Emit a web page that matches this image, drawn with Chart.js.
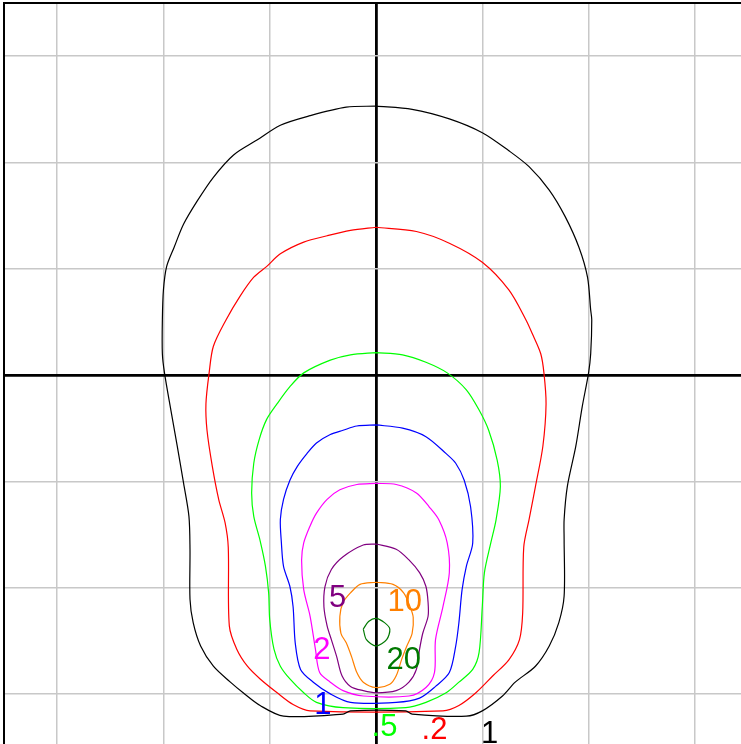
<!DOCTYPE html>
<html>
<head>
<meta charset="utf-8">
<script src="https://cdn.jsdelivr.net/npm/chart.js@4"></script>
<style>
  html, body { margin: 0; padding: 0; background: #fff; overflow: hidden; }
  #wrap { position: absolute; left: 0; top: 0; width: 760px; height: 760px; }
</style>
</head>
<body>
<div id="wrap"><canvas id="plot" width="760" height="760"></canvas></div>
<script>
// contour levels and colours
const levels = ['.1', '.2', '.5', '1', '2', '5', '10', '20'];
const levelColors = ['#000000', '#ff0000', '#00ff00', '#0000ff', '#ff00ff', '#800080', '#ff8000', '#007800'];

// grid lines (grid units)
const gridTicks = [-3, -2, -1, 0, 1, 2, 3];

// contour paths, [x, y] in grid units
const c01 = [[0,2.53],[-0.28,2.52],[-0.62,2.44],[-0.90,2.35],[-1.12,2.21],[-1.34,2.07],[-1.53,1.86],[-1.68,1.64],[-1.81,1.42],[-1.90,1.20],[-1.97,1.02],[-2.00,0.80],[-2.01,0.52],[-2.01,0.20],[-1.99,0.02],[-1.93,-0.33],[-1.87,-0.67],[-1.81,-1.02],[-1.76,-1.33],[-1.75,-1.64],[-1.75,-2.11],[-1.72,-2.33],[-1.65,-2.55],[-1.53,-2.74],[-1.37,-2.89],[-1.25,-2.99],[-1.09,-3.11],[-0.87,-3.21],[-0.31,-3.19],[-0.24,-3.16],[0.28,-3.16],[0.34,-3.19],[0.85,-3.21],[1.00,-3.16],[1.19,-3.02],[1.31,-2.89],[1.50,-2.74],[1.63,-2.55],[1.72,-2.33],[1.77,-2.08],[1.77,-1.55],[1.77,-1.36],[1.80,-1.05],[1.88,-0.67],[1.94,-0.30],[2.00,0.02],[2.02,0.20],[2.03,0.52],[2.02,0.61],[1.99,0.92],[1.91,1.20],[1.78,1.49],[1.63,1.74],[1.44,1.96],[1.25,2.11],[1.00,2.28],[0.69,2.41],[0.34,2.50],[0,2.53]];
const c02 = [[0,1.39],[-0.24,1.36],[-0.46,1.31],[-0.68,1.25],[-0.90,1.14],[-1.03,1.02],[-1.15,0.92],[-1.28,0.74],[-1.41,0.52],[-1.53,0.27],[-1.57,0.02],[-1.60,-0.27],[-1.59,-0.52],[-1.54,-0.86],[-1.48,-1.17],[-1.42,-1.39],[-1.39,-1.62],[-1.38,-2.36],[-1.31,-2.58],[-1.21,-2.74],[-1.09,-2.86],[-0.93,-2.99],[-0.78,-3.10],[-0.62,-3.16],[0.63,-3.16],[0.78,-3.11],[0.94,-2.99],[1.10,-2.83],[1.25,-2.68],[1.35,-2.49],[1.38,-2.24],[1.39,-1.62],[1.44,-1.36],[1.50,-1.05],[1.57,-0.67],[1.60,-0.27],[1.58,0.02],[1.55,0.20],[1.47,0.39],[1.41,0.52],[1.25,0.80],[1.00,1.06],[0.69,1.24],[0.38,1.35],[0,1.39]];
const c05 = [[0,0.21],[-0.24,0.19],[-0.43,0.14],[-0.68,0.02],[-0.81,-0.11],[-0.93,-0.27],[-1.03,-0.42],[-1.10,-0.61],[-1.15,-0.83],[-1.17,-1.11],[-1.15,-1.33],[-1.09,-1.56],[-1.04,-1.80],[-1.01,-2.05],[-1.00,-2.30],[-0.96,-2.58],[-0.90,-2.74],[-0.81,-2.86],[-0.68,-2.99],[-0.56,-3.08],[-0.31,-3.13],[0.28,-3.13],[0.47,-3.08],[0.66,-2.99],[0.78,-2.89],[0.91,-2.77],[0.97,-2.61],[1.00,-2.18],[1.02,-1.86],[1.08,-1.58],[1.13,-1.36],[1.17,-1.05],[1.14,-0.80],[1.06,-0.52],[0.97,-0.33],[0.85,-0.14],[0.67,0.02],[0.47,0.12],[0.25,0.19],[0,0.21]];
const c1 = [[0,-0.47],[-0.18,-0.48],[-0.31,-0.52],[-0.43,-0.56],[-0.56,-0.64],[-0.65,-0.74],[-0.74,-0.86],[-0.81,-0.99],[-0.87,-1.17],[-0.90,-1.36],[-0.89,-1.58],[-0.87,-1.80],[-0.81,-1.99],[-0.78,-2.18],[-0.76,-2.52],[-0.71,-2.77],[-0.59,-2.89],[-0.43,-3.00],[-0.24,-3.08],[0.19,-3.08],[0.41,-3.04],[0.56,-2.93],[0.69,-2.80],[0.75,-2.55],[0.78,-2.33],[0.81,-2.02],[0.85,-1.80],[0.91,-1.58],[0.89,-1.24],[0.83,-0.99],[0.75,-0.83],[0.66,-0.74],[0.47,-0.58],[0.25,-0.50],[0,-0.47]];
const c2 = [[0,-1.02],[-0.18,-1.03],[-0.34,-1.08],[-0.46,-1.17],[-0.56,-1.30],[-0.62,-1.42],[-0.68,-1.58],[-0.70,-1.74],[-0.68,-2.02],[-0.62,-2.27],[-0.57,-2.58],[-0.53,-2.80],[-0.43,-2.89],[-0.31,-2.97],[-0.12,-3.02],[0.31,-3.02],[0.47,-2.94],[0.55,-2.80],[0.56,-2.49],[0.63,-2.18],[0.69,-1.86],[0.67,-1.58],[0.59,-1.36],[0.50,-1.24],[0.38,-1.11],[0.19,-1.03],[0,-1.02]];
const c5 = [[0,-1.59],[-0.12,-1.60],[-0.31,-1.71],[-0.42,-1.83],[-0.48,-1.99],[-0.49,-2.18],[-0.46,-2.36],[-0.42,-2.49],[-0.37,-2.65],[-0.32,-2.83],[-0.24,-2.93],[-0.12,-2.97],[0,-2.99],[0.19,-2.97],[0.31,-2.89],[0.38,-2.77],[0.41,-2.58],[0.44,-2.43],[0.49,-2.27],[0.49,-2.14],[0.47,-1.99],[0.41,-1.86],[0.31,-1.74],[0.19,-1.64],[0,-1.59]];
const c10 = [[0,-1.95],[-0.15,-1.97],[-0.24,-2.05],[-0.31,-2.14],[-0.34,-2.27],[-0.33,-2.43],[-0.28,-2.52],[-0.23,-2.65],[-0.18,-2.80],[-0.12,-2.89],[0,-2.94],[0.13,-2.91],[0.19,-2.83],[0.24,-2.68],[0.29,-2.55],[0.34,-2.43],[0.35,-2.28],[0.32,-2.18],[0.26,-2.05],[0.16,-1.97],[0,-1.95]];
const c20 = [[-0.12,-2.39],[-0.07,-2.32],[0,-2.29],[0.08,-2.33],[0.13,-2.39],[0.10,-2.49],[0,-2.55],[-0.09,-2.49],[-0.12,-2.39]];

// label text positions
const labelX = [1.07, 0.55, 0.08, -0.50, -0.51, -0.36, 0.27, 0.26];
const labelY = [-3.38, -3.34, -3.32, -3.11, -2.59, -2.10, -2.14, -2.69];

const paths = [c01, c02, c05, c1, c2, c5, c10, c20];

const labelPlugin = {
    id: 'contourLabels',
    afterDatasetsDraw(chart) {
        const { ctx, scales } = chart;
        ctx.save();
        ctx.font = "31px 'Liberation Sans', Arial, sans-serif";
        ctx.textAlign = 'center';
        ctx.textBaseline = 'middle';
        levels.forEach((lv, i) => {
            ctx.fillStyle = levelColors[i];
            ctx.fillText(lv === '.1' ? '1' : lv, scales.x.getPixelForValue(labelX[i]), scales.y.getPixelForValue(labelY[i]));
        });
        ctx.restore();
    }
};

const gridColor = c => c.tick && c.tick.value === 0 ? '#000000' : '#c8c8c8';
const gridWidth = c => c.tick && c.tick.value === 0 ? 2.8 : 1.5;
const setTicks = s => { s.ticks = gridTicks.map(v => ({ value: v })); };

new Chart(document.getElementById('plot'), {
    type: 'scatter',
    data: {
        datasets: paths.map((p, i) => ({
            label: levels[i],
            data: p.map(q => ({ x: q[0], y: q[1] })),
            showLine: true,
            borderColor: levelColors[i],
            borderWidth: 1.2,
            pointRadius: 0,
            tension: 0.3,
            fill: false
        }))
    },
    options: {
        responsive: false,
        animation: false,
        events: [],
        layout: { padding: { left: 4, top: 3, right: 12, bottom: 13 } },
        plugins: { legend: { display: false }, tooltip: { enabled: false } },
        scales: {
            x: {
                type: 'linear', position: 'top', min: -3.5, max: 3.5,
                ticks: { display: false },
                grid: { color: gridColor, lineWidth: gridWidth, drawTicks: false },
                border: { display: true, color: '#000000', width: 2 },
                afterBuildTicks: setTicks,
                afterFit: s => { s.height = 0; }
            },
            y: {
                type: 'linear', position: 'left', min: -3.5, max: 3.5,
                ticks: { display: false },
                grid: { color: gridColor, lineWidth: gridWidth, drawTicks: false },
                border: { display: true, color: '#000000', width: 2 },
                afterBuildTicks: setTicks,
                afterFit: s => { s.width = 0; }
            }
        }
    },
    plugins: [labelPlugin]
});
</script>
</body>
</html>
